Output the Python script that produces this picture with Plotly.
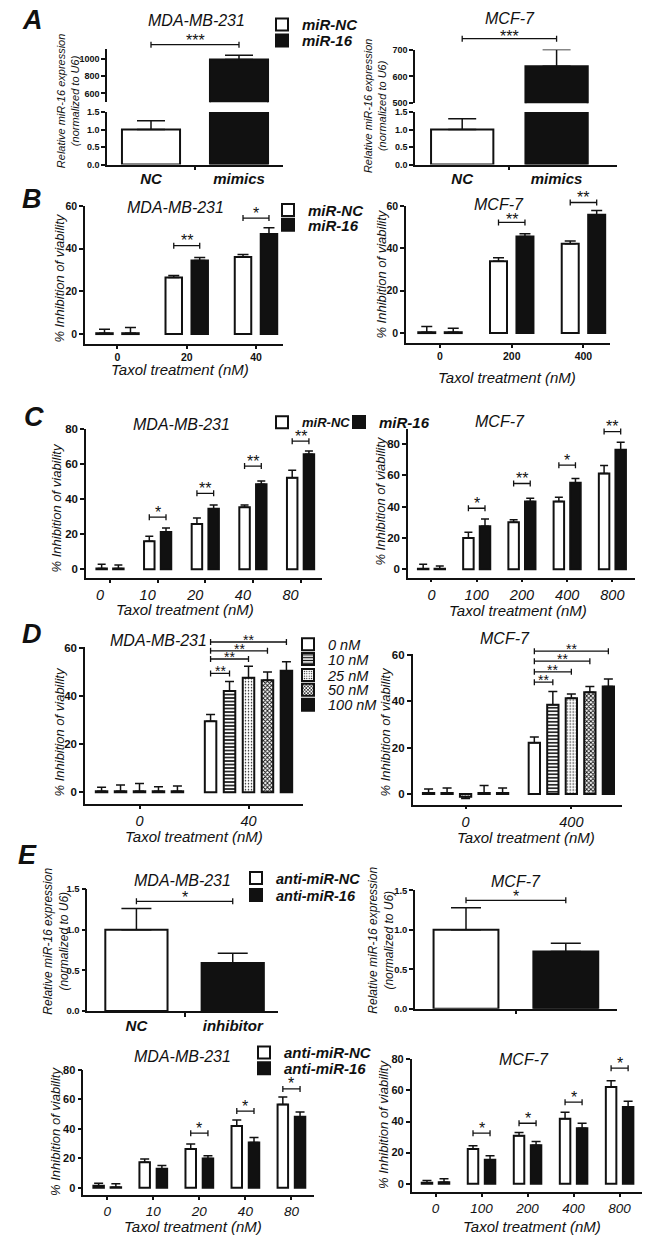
import plotly.graph_objects as go

# ======================= DATA =======================
# A: relative miR-16 expression (normalized to U6) after mimic transfection
A_groups = ["NC", "mimics"]
A_MDA_mean = [1.0, 990.0]
A_MDA_err = [0.25, 50.0]
A_MCF_mean = [1.0, 638.0]
A_MCF_err = [0.31, 62.0]

# B: % inhibition of viability, miR-NC vs miR-16
B_MDA_doses = ["0", "20", "40"]
B_MDA_NC = [0.4, 26.5, 36.1]
B_MDA_NC_err = [1.9, 0.9, 1.1]
B_MDA_16 = [0.4, 34.5, 46.8]
B_MDA_16_err = [2.7, 1.3, 3.0]
B_MCF_doses = ["0", "200", "400"]
B_MCF_NC = [0.4, 33.9, 42.2]
B_MCF_NC_err = [2.7, 1.6, 1.2]
B_MCF_16 = [0.4, 45.6, 55.8]
B_MCF_16_err = [1.9, 1.3, 2.0]

# C: % inhibition of viability, miR-NC vs miR-16, wider dose range
C_MDA_doses = ["0", "10", "20", "40", "80"]
C_MDA_NC = [0.4, 16.0, 25.8, 35.4, 52.1]
C_MDA_NC_err = [2.4, 2.8, 3.4, 1.3, 4.4]
C_MDA_16 = [0.4, 21.2, 34.5, 48.4, 65.5]
C_MDA_16_err = [2.0, 2.3, 2.2, 1.9, 1.9]
C_MCF_doses = ["0", "100", "200", "400", "800"]
C_MCF_NC = [0.4, 20.0, 29.9, 43.2, 61.0]
C_MCF_NC_err = [2.8, 3.6, 1.7, 2.7, 5.1]
C_MCF_16 = [0.4, 27.4, 43.2, 55.2, 76.2]
C_MCF_16_err = [1.7, 4.6, 2.1, 2.7, 4.8]

# D: % inhibition of viability, miR-16 mimic concentrations
D_conc = ["0 nM", "10 nM", "25 nM", "50 nM", "100 nM"]
D_MDA_doses = ["0", "40"]
D_MDA_0nM = [0.4, 29.6]
D_MDA_0nM_err = [1.7, 2.8]
D_MDA_10nM = [0.4, 42.3]
D_MDA_10nM_err = [2.6, 3.9]
D_MDA_25nM = [0.4, 47.8]
D_MDA_25nM_err = [3.3, 4.8]
D_MDA_50nM = [0.4, 46.7]
D_MDA_50nM_err = [1.9, 3.5]
D_MDA_100nM = [0.4, 50.7]
D_MDA_100nM_err = [2.2, 3.8]
D_MCF_doses = ["0", "400"]
D_MCF_0nM = [0.4, 22.1]
D_MCF_0nM_err = [1.7, 2.5]
D_MCF_10nM = [0.4, 38.6]
D_MCF_10nM_err = [2.2, 5.7]
D_MCF_25nM = [-1.2, 41.4]
D_MCF_25nM_err = [0.8, 1.8]
D_MCF_50nM = [0.4, 44.0]
D_MCF_50nM_err = [3.2, 2.4]
D_MCF_100nM = [0.4, 46.4]
D_MCF_100nM_err = [2.2, 3.3]

# E (top): relative miR-16 expression after inhibitor transfection
E_groups = ["NC", "inhibitor"]
E_MDA_mean = [1.0, 0.59]
E_MDA_err = [0.26, 0.12]
E_MCF_mean = [1.0, 0.725]
E_MCF_err = [0.28, 0.105]

# E (bottom): % inhibition of viability, anti-miR-NC vs anti-miR-16
E_MDA_doses = ["0", "10", "20", "40", "80"]
E_MDA_NC = [1.3, 17.2, 26.2, 41.9, 56.5]
E_MDA_NC_err = [1.8, 2.3, 3.4, 4.0, 5.1]
E_MDA_16 = [0.3, 12.8, 19.9, 30.7, 48.2]
E_MDA_16_err = [2.4, 2.2, 1.8, 3.3, 3.1]
E_MCF_doses = ["0", "100", "200", "400", "800"]
E_MCF_NC = [0.6, 22.3, 30.8, 41.8, 62.2]
E_MCF_NC_err = [1.5, 2.1, 2.1, 4.2, 4.0]
E_MCF_16 = [1.0, 15.5, 24.8, 35.7, 49.4]
E_MCF_16_err = [2.2, 2.5, 2.4, 3.2, 3.6]

# ======================= STYLE / LAYOUT =======================
W, H = 650, 1240
FONT = "Liberation Sans"
BLACK = "#111111"
WHITE_BAR = dict(fill="white")
BLACK_BAR = dict(fill=BLACK)
D_STYLES = [
    dict(fill="white"),
    dict(fill="white", pattern=dict(shape="-", size=3.5, solidity=0.45)),
    dict(fill="white", pattern=dict(shape=".", size=3, solidity=0.2)),
    dict(fill="white", pattern=dict(shape="x", size=3, solidity=0.5)),
    dict(fill=BLACK),
]


def fx(px):
    return px / W


def fy(py):
    return 1 - py / H


def ids(k):
    return ("x" if k == 1 else f"x{k}", "y" if k == 1 else f"y{k}")


fig = go.Figure()
layout = dict(
    width=W, height=H, margin=dict(l=0, r=0, t=0, b=0),
    paper_bgcolor="white", plot_bgcolor="rgba(0,0,0,0)",
    barmode="overlay", showlegend=True,
    font=dict(family=FONT, color=BLACK),
)
annotations = []
shapes = []
YR = {}


def add_axes(k, xpx, ypx, xr, yr, yticks, cats, yfmt=None, ysize=10,
             xfont=None, xline=True, xlabels=True, xticks="outside",
             mid_tick=False, shift=0):
    xid, yid = ids(k)
    xn = "xaxis" if k == 1 else f"xaxis{k}"
    yn = "yaxis" if k == 1 else f"yaxis{k}"
    YR[k] = yr
    xa = dict(domain=[fx(xpx[0]), fx(xpx[1])], range=list(xr), anchor=yid,
              showline=xline, linecolor=BLACK, linewidth=1.5, showgrid=False,
              zeroline=False, fixedrange=True, tickmode="array",
              tickvals=list(range(len(cats))), ticktext=cats,
              ticks=xticks if xline else "", ticklen=3, tickwidth=1.5,
              tickcolor=BLACK, showticklabels=xlabels and xline)
    if xfont:
        xa["tickfont"] = dict(family=FONT, color=BLACK, **xfont)
    if shift:
        xa["ticklabelshift"] = shift
    if mid_tick:
        xa["minor"] = dict(tickmode="array", tickvals=[0.5], ticks="outside",
                           ticklen=4, tickwidth=1.5, tickcolor=BLACK,
                           showgrid=False)
    ya = dict(domain=[fy(ypx[1]), fy(ypx[0])], range=list(yr), anchor=xid,
              showline=True, linecolor=BLACK, linewidth=1.5, showgrid=False,
              zeroline=False, fixedrange=True, tickmode="array",
              tickvals=yticks, ticks="outside", ticklen=4, tickwidth=1.5,
              tickcolor=BLACK,
              tickfont=dict(family=FONT, size=ysize, weight="bold", color=BLACK))
    if yfmt:
        ya["tickformat"] = yfmt
    layout[xn] = xa
    layout[yn] = ya


def add_series(k, xs, series, width, step, err_half, legends=None):
    xid, yid = ids(k)
    n = len(series)
    for i, (name, vals, errs, sty) in enumerate(series):
        center = (i - (n - 1) / 2) * step
        up = [e if v >= 0 else 0 for v, e in zip(vals, errs)]
        dn = [e if v < 0 else 0 for v, e in zip(vals, errs)]
        marker = dict(color=sty["fill"], line=dict(color=BLACK, width=2))
        if "pattern" in sty:
            marker["pattern"] = dict(fgcolor=BLACK, bgcolor="white",
                                     fillmode="replace", **sty["pattern"])
        tr = dict(x=xs[i] if isinstance(xs[0], list) else xs, y=vals,
                  name=name, width=width, offset=center - width / 2,
                  marker=marker, xaxis=xid, yaxis=yid, hoverinfo="skip",
                  error_y=dict(type="data", symmetric=False, array=up,
                               arrayminus=dn, color=BLACK, thickness=1.5,
                               width=err_half))
        if legends:
            tr["legend"] = legends[i]
            tr["showlegend"] = True
        else:
            tr["showlegend"] = False
        fig.add_trace(go.Bar(**tr))


def bracket(k, x0, x1, level, label, lift=5, size=16):
    xid, yid = ids(k)
    yr = YR[k]
    frac = (level - yr[0]) / (yr[1] - yr[0])
    shapes.append(dict(type="path", xref=xid, yref=f"{yid} domain",
                       ysizemode="pixel", yanchor=frac,
                       path=f"M{x0},-3L{x0},3M{x0},0L{x1},0M{x1},-3L{x1},3",
                       line=dict(color=BLACK, width=1.3)))
    annotations.append(dict(text=label, xref=xid, yref=f"{yid} domain",
                            x=(x0 + x1) / 2, y=frac, yanchor="middle",
                            xanchor="center", yshift=lift, showarrow=False,
                            font=dict(family=FONT, size=size, color=BLACK)))


def text(t, xpx, ypx, size, weight="normal", style="italic", angle=0):
    annotations.append(dict(text=t, xref="paper", yref="paper", x=fx(xpx),
                            y=fy(ypx), xanchor="center", yanchor="middle",
                            showarrow=False, textangle=angle,
                            font=dict(family=FONT, size=size, weight=weight,
                                      style=style, color=BLACK)))


def legend(lid, xpx, ypx, size, weight="bold", style="italic"):
    layout[lid] = dict(x=fx(xpx), y=fy(ypx), xanchor="left", yanchor="middle",
                       bgcolor="rgba(0,0,0,0)", borderwidth=0, itemwidth=30,
                       font=dict(family=FONT, size=size, weight=weight,
                                 style=style, color=BLACK))


BOLD_IT = dict(weight="bold", style="italic")

# ---------------- Panel A (broken y axis) ----------------
A_x = [[0], [1]]
for (ku, kl, xpx, xr, yr_up, yt_up, ypx_up, mean, err, leg) in [
    (1, 2, (107, 283), (-0.5, 1.5), (500, 1115), [600, 800, 1000], (43, 97),
     A_MDA_mean, A_MDA_err, ["legend", "legend2"]),
    (3, 4, (415, 617), (-0.5, 1.64), (500, 700), [500, 600, 700], (44, 98),
     A_MCF_mean, A_MCF_err, None),
]:
    add_axes(ku, xpx, ypx_up, xr, yr_up, yt_up, A_groups, ysize=9, xline=False)
    add_axes(kl, xpx, (107, 160), xr, (0, 1.5), [0, 0.5, 1.0, 1.5], A_groups,
             yfmt=".1f", ysize=9, xfont=dict(size=15, **BOLD_IT), xticks="",
             mid_tick=True)
    ser = [("miR-NC", [mean[0]], [err[0]], WHITE_BAR),
           ("miR-16", [mean[1]], [err[1]], BLACK_BAR)]
    add_series(ku, A_x, ser, 0.66, 0.0, 14)
    add_series(kl, A_x, ser, 0.66, 0.0, 14, legends=leg)
bracket(1, 0, 1, 1160, "***", lift=4)
bracket(3, 0, 1, 741, "***", lift=2)

# ---------------- Panel B ----------------
add_axes(5, (85, 283), (201.7, 341), (-0.469, 2.39), (-4.64, 60), [0, 20, 40, 60],
         B_MDA_doses, ysize=10.5, xfont=dict(size=10.5, weight="bold"))
add_series(5, list(range(3)),
           [("miR-NC", B_MDA_NC, B_MDA_NC_err, WHITE_BAR),
            ("miR-16", B_MDA_16, B_MDA_16_err, BLACK_BAR)],
           0.238, 0.375, 5.5, legends=["legend3", "legend4"])
add_axes(6, (406, 610), (201.7, 340), (-0.474, 2.37), (-4.68, 60), [0, 20, 40, 60],
         B_MCF_doses, ysize=10.5, xfont=dict(size=10.5, weight="bold"))
add_series(6, list(range(3)),
           [("miR-NC", B_MCF_NC, B_MCF_NC_err, WHITE_BAR),
            ("miR-16", B_MCF_16, B_MCF_16_err, BLACK_BAR)],
           0.237, 0.369, 5.5)
for g, lev, lab in [(1, 41.4, "**"), (2, 54.3, "*")]:
    bracket(5, g - 0.375 / 2, g + 0.375 / 2, lev, lab)
for g, lev, lab, lf in [(1, 52.2, "**", 3), (2, 61.6, "**", 5)]:
    bracket(6, g - 0.369 / 2, g + 0.369 / 2, lev, lab, lift=lf)

# ---------------- Panel C ----------------
add_axes(7, (86, 322), (426.7, 577.3), (-0.504, 4.45), (-5.08, 80),
         [0, 20, 40, 60, 80], C_MDA_doses, ysize=11.5,
         xfont=dict(size=14.5, style="italic"), shift=-10)
add_series(7, list(range(5)),
           [("miR-NC", C_MDA_NC, C_MDA_NC_err, WHITE_BAR),
            ("miR-16", C_MDA_16, C_MDA_16_err, BLACK_BAR)],
           0.22, 0.351, 4, legends=["legend5", "legend6"])
add_axes(8, (408, 635), (427, 576.7), (-0.519, 4.5), (-5.3, 89.3),
         [0, 20, 40, 60, 80], C_MCF_doses, ysize=11.5,
         xfont=dict(size=14.5, style="italic"))
add_series(8, list(range(5)),
           [("miR-NC", C_MCF_NC, C_MCF_NC_err, WHITE_BAR),
            ("miR-16", C_MCF_16, C_MCF_16_err, BLACK_BAR)],
           0.232, 0.367, 4)
for g, lev, lab in [(1, 29.7, "*"), (2, 43.3, "**"), (3, 58.8, "**"), (4, 73.0, "**")]:
    bracket(7, g - 0.351 / 2, g + 0.351 / 2, lev, lab)
for g, lev, lab in [(1, 38.9, "*"), (2, 54.7, "**"), (3, 66.4, "*"), (4, 87.8, "**")]:
    bracket(8, g - 0.367 / 2, g + 0.367 / 2, lev, lab)

# ---------------- Panel D ----------------
add_axes(9, (85, 303), (647, 805), (-0.5, 1.5), (-4.84, 60.5), [0, 20, 40, 60],
         D_MDA_doses, ysize=11.5, xfont=dict(size=14.5, style="italic"))
add_series(9, list(range(2)),
           list(zip(D_conc,
                    [D_MDA_0nM, D_MDA_10nM, D_MDA_25nM, D_MDA_50nM, D_MDA_100nM],
                    [D_MDA_0nM_err, D_MDA_10nM_err, D_MDA_25nM_err,
                     D_MDA_50nM_err, D_MDA_100nM_err], D_STYLES)),
           0.1055, 0.174, 4.5,
           legends=["legend7", "legend8", "legend9", "legend10", "legend11"])
add_axes(10, (412.7, 621.7), (653.3, 805.7), (-0.5, 1.476), (-4.59, 60.7),
         [0, 20, 40, 60], D_MCF_doses, ysize=11.5,
         xfont=dict(size=14.5, style="italic"))
add_series(10, list(range(2)),
           list(zip(D_conc,
                    [D_MCF_0nM, D_MCF_10nM, D_MCF_25nM, D_MCF_50nM, D_MCF_100nM],
                    [D_MCF_0nM_err, D_MCF_10nM_err, D_MCF_25nM_err,
                     D_MCF_50nM_err, D_MCF_100nM_err], D_STYLES)),
           0.107, 0.175, 4.5)
for j, lev in zip([4, 3, 2, 1], [62.7, 59.0, 55.6, 49.6]):
    bracket(9, 1 - 2 * 0.174, 1 + (j - 2) * 0.174, lev, "**", lift=2, size=14)
for j, lev in zip([4, 3, 2, 1], [61.7, 57.4, 52.8, 48.3]):
    bracket(10, 1 - 2 * 0.175, 1 + (j - 2) * 0.175, lev, "**", lift=2, size=14)

# ---------------- Panel E (top) ----------------
E_x = [[0], [1]]
add_axes(11, (87.3, 278), (891, 1014), (-0.51, 1.47), (0, 1.5),
         [0, 0.5, 1.0, 1.5], E_groups, yfmt=".1f", ysize=9.5,
         xfont=dict(size=15, **BOLD_IT), xticks="", mid_tick=True)
add_series(11, E_x, [("anti-miR-NC", [E_MDA_mean[0]], [E_MDA_err[0]], WHITE_BAR),
                     ("anti-miR-16", [E_MDA_mean[1]], [E_MDA_err[1]], BLACK_BAR)],
           0.646, 0.0, 15, legends=["legend12", "legend13"])
add_axes(12, (415, 617), (892.3, 1011.7), (-0.511, 1.513), (0, 1.5),
         [0, 0.5, 1.0, 1.5], E_groups, yfmt=".1f", ysize=9.5, xlabels=False,
         xticks="", mid_tick=True)
add_series(12, E_x, [("anti-miR-NC", [E_MCF_mean[0]], [E_MCF_err[0]], WHITE_BAR),
                     ("anti-miR-16", [E_MCF_mean[1]], [E_MCF_err[1]], BLACK_BAR)],
           0.65, 0.0, 15)
bracket(11, 0, 1, 1.35, "*", lift=4)
bracket(12, 0, 1, 1.374, "*", lift=4)

# ---------------- Panel E (bottom) ----------------
add_axes(13, (83.3, 314), (1073.3, 1200), (-0.52, 4.49), (-5.18, 80),
         [0, 20, 40, 60, 80], E_MDA_doses, ysize=11,
         xfont=dict(size=13.5, style="italic"))
add_series(13, list(range(5)),
           [("anti-miR-NC", E_MDA_NC, E_MDA_NC_err, WHITE_BAR),
            ("anti-miR-16", E_MDA_16, E_MDA_16_err, BLACK_BAR)],
           0.228, 0.374, 4.5, legends=["legend14", "legend15"])
add_axes(14, (411.7, 641.7), (1062.7, 1196.7), (-0.517, 4.48), (-5.35, 80),
         [0, 20, 40, 60, 80], E_MCF_doses, ysize=11,
         xfont=dict(size=13.5, style="italic"))
add_series(14, list(range(5)),
           [("anti-miR-NC", E_MCF_NC, E_MCF_NC_err, WHITE_BAR),
            ("anti-miR-16", E_MCF_16, E_MCF_16_err, BLACK_BAR)],
           0.228, 0.37, 4.5)
for g, lev, lab in [(2, 37.0, "*"), (3, 52.0, "*"), (4, 67.0, "*")]:
    bracket(13, g - 0.374 / 2, g + 0.374 / 2, lev, lab)
for g, lev, lab in [(1, 32.5, "*"), (2, 38.9, "*"), (3, 52.4, "*"), (4, 74.3, "*")]:
    bracket(14, g - 0.37 / 2, g + 0.37 / 2, lev, lab)

# ---------------- Legends ----------------
legend("legend", 262, 19, 15)
legend("legend2", 262, 35, 15)
legend("legend3", 268, 206, 15)
legend("legend4", 268, 221, 15)
legend("legend5", 262, 420, 13)
legend("legend6", 339, 420, 15)
for lid, yy in zip(["legend7", "legend8", "legend9", "legend10", "legend11"],
                   [644, 659, 675, 690, 705]):
    legend(lid, 288, yy, 14.5, weight="normal")
legend("legend12", 236, 880, 14.5)
legend("legend13", 236, 897, 14.5)
legend("legend14", 244, 1056, 15)
legend("legend15", 244, 1072, 15)

# ---------------- Text ----------------
for lab, xx, yy in [("A", 32, 14), ("B", 32, 195), ("C", 34, 415),
                    ("D", 32, 634), ("E", 27, 857)]:
    text(lab, xx, yy, 27, weight="bold")
for t, xx, yy in [("MDA-MB-231", 196, 15), ("MCF-7", 510, 13),
                  ("MDA-MB-231", 175, 203), ("MCF-7", 499, 200),
                  ("MDA-MB-231", 181, 422), ("MCF-7", 500, 419),
                  ("MDA-MB-231", 158, 640), ("MCF-7", 505, 638),
                  ("MDA-MB-231", 183, 882), ("MCF-7", 516, 883),
                  ("MDA-MB-231", 182, 1060), ("MCF-7", 524, 1063)]:
    text(t, xx, yy, 16)
REL = "Relative miR-16 expression<br>(normalized to U6)"
text(REL, 68, 96, 11, angle=-90)
text(REL, 375, 100, 11, angle=-90)
text(REL, 56, 944, 12, angle=-90)
text(REL, 381, 943, 12, angle=-90)
INH = "% Inhibition of viability"
for xx, yy in [(60, 275), (382, 271), (57, 507), (381, 500), (59, 733),
               (386, 732), (56, 1136), (384, 1129)]:
    text(INH, xx, yy, 13, angle=-90)
TAX = "Taxol treatment (nM)"
for xx, yy in [(180, 367), (507, 375), (185, 609), (518, 610), (194, 838),
               (526, 839), (193, 1231), (532, 1231)]:
    text(TAX, xx, yy, 15)

layout["annotations"] = annotations
layout["shapes"] = shapes
fig.update_layout(**layout)
fig.write_html(
    "out.html",
    config={"displayModeBar": False},
    post_script="document.body.style.margin='0';"
                "document.body.style.overflow='hidden';",
)
